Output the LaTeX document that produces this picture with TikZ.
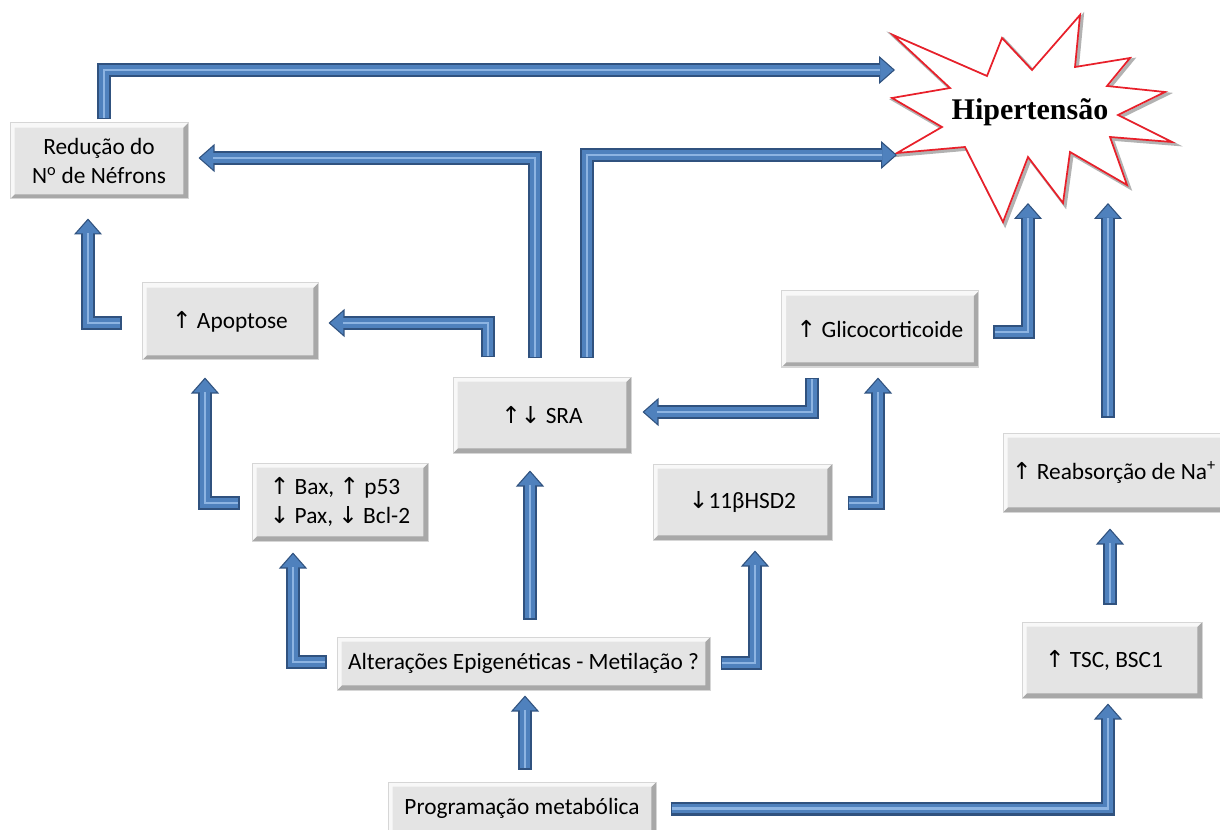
\documentclass[tikz,border=0pt]{standalone}
\usepackage{fontspec}
\setmainfont{Carlito}
\newfontfamily\symfont{DejaVu Sans}
\newfontfamily\titlefont{Liberation Serif}
\usetikzlibrary{arrows.meta,calc}

\definecolor{arrowdark}{HTML}{30527F}
\definecolor{arrowmid}{HTML}{4F81BD}
\definecolor{arrowlight}{HTML}{8DB4E2}
\definecolor{boxfill}{HTML}{E4E4E4}
\definecolor{boxedge}{HTML}{D6D6D6}
\definecolor{boxshade}{HTML}{A8A8A8}
\definecolor{starred}{HTML}{E8202A}

\newcommand\upa{{\symfont\char"2191}}
\newcommand\dna{{\symfont\char"2193}}

% three-layer block arrow: dark body, blue core, light glint
\newcommand\blockarrow[1]{%
  \draw[shaft] #1;
  \draw[core] #1;
  \draw[glint] #1;
}

\tikzset{
  shaft/.style={draw=arrowdark, line width=10.5pt,
    -{Triangle[width=21pt,length=12pt,line width=0.8pt,fill=arrowmid]}},
  core/.style={draw=arrowmid, line width=7pt, shorten >=11pt, shorten <=1.2pt},
  glint/.style={draw=arrowlight, line width=2.2pt, shorten >=11pt, shorten <=1.2pt},
  cbox/.style={rectangle, fill=boxfill, draw=boxedge, line width=0.75pt,
    inner sep=0pt, align=center,
    font=\fontsize{17.5}{21.75}\selectfont,
    path picture={
      \coordinate (ppsw) at (path picture bounding box.south west);
      \coordinate (ppne) at (path picture bounding box.north east);
      % darker bevel on bottom and right
      \fill[boxshade] (ppsw) -- (ppsw -| ppne) -- (ppne)
        -- ([shift={(-3.5pt,-3.5pt)}]ppne)
        -- ([shift={(-3.5pt,3.5pt)}]ppsw -| ppne)
        -- ([shift={(3.5pt,3.5pt)}]ppsw) -- cycle;
      % lighter bevel on top and left
      \fill[white!75!boxfill] (ppsw) -- ([shift={(3.5pt,3.5pt)}]ppsw)
        -- ([shift={(3.5pt,-3.5pt)}]ppsw |- ppne)
        -- ([shift={(-3.5pt,-3.5pt)}]ppne) -- (ppne) -- (ppsw |- ppne) -- cycle;
    }},
}

\begin{document}
\begin{tikzpicture}[x=0.75pt,y=-0.75pt]
\useasboundingbox (0,0) rectangle (1220,830);

% burst shape around the outcome
\draw[black!55, line width=2.6pt, opacity=0.55, line join=miter, shift={(2,2)}]
  (893,35) -- (987,76) -- (1002,38) -- (1032,70) -- (1080,15) -- (1075,67)
  -- (1130,58) -- (1107,86) -- (1165,92) -- (1118,115) -- (1172,142)
  -- (1110,137) -- (1127,185) -- (1070,152) -- (1063,203) -- (1028,157)
  -- (1003,222) -- (965,147) -- (897,153) -- (942,127) -- (892,98)
  -- (950,88) -- cycle;
\draw[starred, fill=white, line width=1.3pt]
  (893,35) -- (987,76) -- (1002,38) -- (1032,70) -- (1080,15) -- (1075,67)
  -- (1130,58) -- (1107,86) -- (1165,92) -- (1118,115) -- (1172,142)
  -- (1110,137) -- (1127,185) -- (1070,152) -- (1063,203) -- (1028,157)
  -- (1003,222) -- (965,147) -- (897,153) -- (942,127) -- (892,98)
  -- (950,88) -- cycle;
\node[font=\titlefont\bfseries\fontsize{22.5}{27}\selectfont] (hip) at (1030,112) {Hipertensão};

% boxes
\node[cbox, minimum width=133.5pt, minimum height=57pt] (redu) at (99,161)
  {Redução do\\N\textsuperscript{o} de Néfrons};
\node[cbox, minimum width=132pt, minimum height=57.75pt] (apop) at (230,321.5)
  {\upa{} Apoptose};
\node[cbox, minimum width=133.5pt, minimum height=57pt] (sra) at (542,415)
  {\upa\dna{} SRA};
\node[cbox, minimum width=147.75pt, minimum height=57pt] (glico) at (880,329)
  {\upa{} Glicocorticoide};
\node[cbox, minimum width=132pt, minimum height=58.5pt, align=left] (bax) at (340,502)
  {\upa{} Bax, \upa{} p53\\\dna{} Pax, \dna{} Bcl-2};
\node[cbox, minimum width=134.25pt, minimum height=57pt] (hsd) at (742.5,502)
  {\dna11βHSD2};
\node[cbox, minimum width=166.5pt, minimum height=59.25pt] (reab) at (1114,472.5)
  {\upa{} Reabsorção de Na\textsuperscript{+}};
\node[cbox, minimum width=135pt, minimum height=57pt] (tsc) at (1112,660)
  {\upa{} TSC, BSC1\hspace{12pt}};
\node[cbox, minimum width=279.75pt, minimum height=39.75pt] (alt) at (523.5,663.5)
  {Alterações Epigenéticas - Metilação ?};
\node[cbox, minimum width=201pt, minimum height=39.75pt] (prog) at (522,808.5)
  {Programação metabólica};

% connectors
\blockarrow{($(redu.north)+(5,-3)$) |- ($(hip)+(-135,-42)$)}
\blockarrow{($(sra.north)+(-7,-18)$) |- ($(redu.east)+(10,-3)$)}
\blockarrow{($(sra.north)+(45,-18)$) |- ($(hip)+(-133,43)$)}
\blockarrow{($(sra.north)+(-54,-19)$) |- ($(apop.east)+(10,1.5)$)}
\blockarrow{($(apop.west)+(-20,1.5)$) -| ($(redu.south)+(-11,19)$)}
\blockarrow{($(bax.west)+(-12,1)$) -| ($(apop.south)+(-25,17)$)}
\blockarrow{($(alt.west)+(-10,-1.5)$) -| ($(bax.south)+(-47,11)$)}
\blockarrow{($(alt.north)+(6.5,-17)$) -- ($(sra.south)+(-12,17)$)}
\blockarrow{($(alt.east)+(10,-0.5)$) -| ($(hsd.south)+(12.5,10)$)}
\blockarrow{($(hsd.east)+(15,1)$) -| ($(glico.south)+(-2,10)$)}
\blockarrow{($(glico.south)+(-68,10)$) |- ($(sra.east)+(11,-3)$)}
\blockarrow{($(glico.east)+(14,3)$) -| ($(hip)+(-2,91)$)}
\blockarrow{($(reab.north)+(-6,-15)$) -- ($(hip)+(78,91)$)}
\blockarrow{($(tsc.north)+(-2,-17)$) -- ($(reab.south)+(-4,16)$)}
\blockarrow{($(prog.east)+(14,0)$) -| ($(tsc.south)+(-4,5)$)}
\blockarrow{($(prog.north)+(3,-12)$) -- ($(alt.south)+(1.5,5)$)}
\end{tikzpicture}
\end{document}
